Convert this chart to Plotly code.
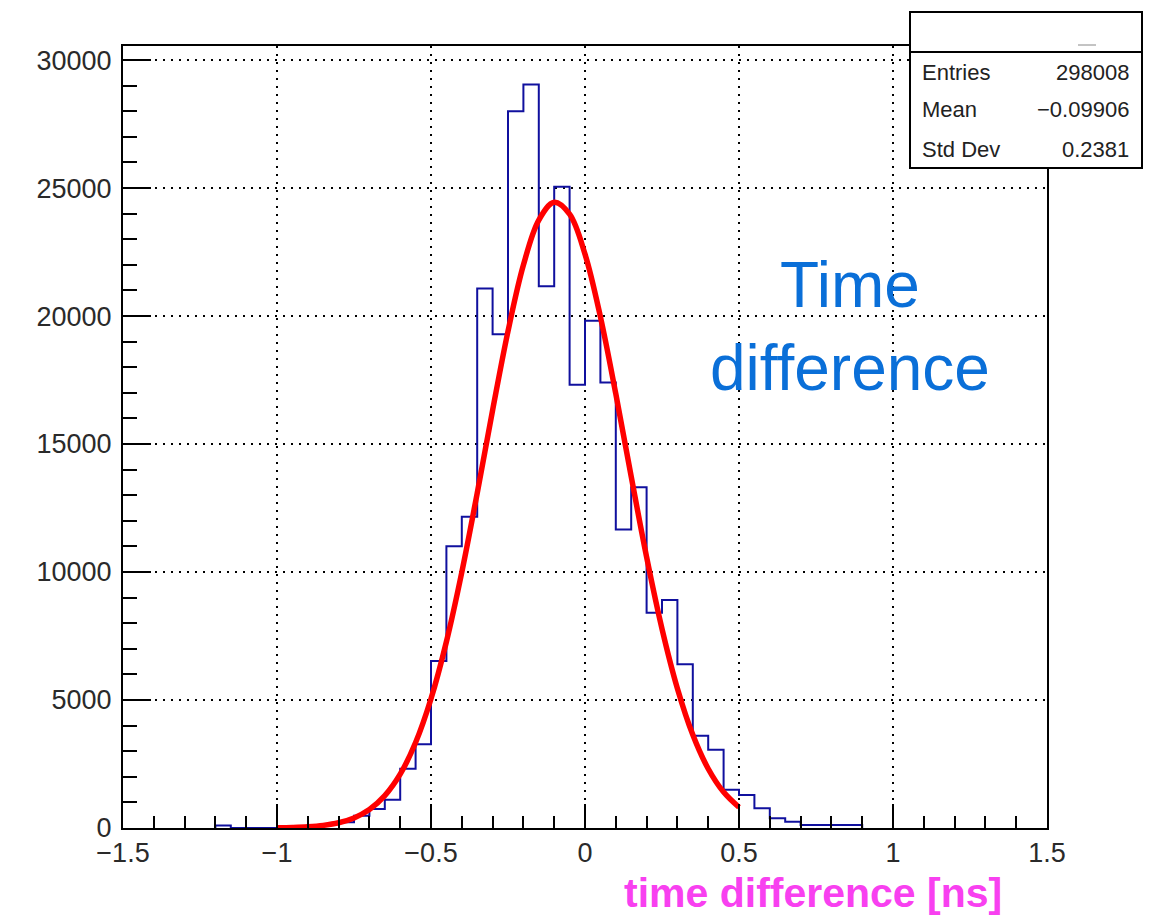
import plotly.graph_objects as go

# ---------------- data ----------------
bin_low_edges = [-1.20, -1.15, -1.10, -1.05, -1.00, -0.95, -0.90, -0.85, -0.80, -0.75,
                 -0.70, -0.65, -0.60, -0.55, -0.50, -0.45, -0.40, -0.35, -0.30, -0.25,
                 -0.20, -0.15, -0.10, -0.05, 0.00, 0.05, 0.10, 0.15, 0.20, 0.25,
                 0.30, 0.35, 0.40, 0.45, 0.50, 0.55, 0.60, 0.65, 0.70, 0.75,
                 0.80, 0.85]
last_bin_high_edge = 0.90
counts = [100, 0, 0, 0, 30, 60, 90, 150, 222, 480,
          741, 1100, 2310, 3276, 6525, 11010, 12156, 21072, 19293, 28002,
          29043, 21165, 25050, 17316, 19812, 17406, 11661, 13311, 8412, 8904,
          6396, 3600, 3054, 1494, 1287, 768, 378, 246, 117, 117,
          117, 117]

fit_x = [-1.00, -0.95, -0.90, -0.85, -0.80, -0.75, -0.70, -0.65, -0.60, -0.55,
         -0.50, -0.45, -0.40, -0.35, -0.30, -0.25, -0.20, -0.15, -0.10, -0.05,
         0.00, 0.05, 0.10, 0.15, 0.20, 0.25, 0.30, 0.35, 0.40, 0.45, 0.50]
fit_y = [9, 22, 48, 102, 205, 394, 723, 1265, 2103, 3339,
         5050, 7277, 9993, 13082, 16320, 19406, 21990, 23748, 24444, 23978,
         22419, 19973, 16961, 13727, 10587, 7783, 5453, 3641, 2316, 1404, 811]

x_tickvals = [-1.5, -1, -0.5, 0, 0.5, 1, 1.5]
x_ticktext = ["\u22121.5", "\u22121", "\u22120.5", "0", "0.5", "1", "1.5"]
y_tickvals = [0, 5000, 10000, 15000, 20000, 25000, 30000]
y_ticktext = ["0", "5000", "10000", "15000", "20000", "25000", "30000"]

stats_labels = ["Entries", "Mean", "Std Dev"]
stats_values = ["298008", "\u22120.09906", "0.2381"]

x_title = "time difference [ns]"
note_text = "Time<br>difference"

# ---------------- figure ----------------
OFF = 8                       # page body margin
W, H = 1156 - OFF, 915 - OFF
L, R, T, B = 123, 1047, 46, 828   # plot frame in page pixels
pw, ph = R - L, B - T

def px(x):
    return (x - L) / pw

def py(y):
    return (B - y) / ph

hx = [bin_low_edges[0]] + bin_low_edges + [last_bin_high_edge, last_bin_high_edge]
hy = [0] + counts + [counts[-1], 0]

fig = go.Figure()
fig.add_trace(go.Scatter(x=hx, y=hy, mode="lines", line=dict(color="#10109e", width=2, shape="hv"),
                         hoverinfo="skip"))
fig.add_trace(go.Scatter(x=fit_x, y=fit_y, mode="lines", line=dict(color="#ff0000", width=5.5, shape="spline"),
                         hoverinfo="skip"))

tickfont = dict(family="Liberation Sans, Arial, sans-serif", size=27, color="#2a2a2a")
fig.update_layout(
    width=W, height=H,
    margin=dict(l=L - OFF, r=1156 - R, t=T - OFF, b=915 - B, pad=0),
    paper_bgcolor="white", plot_bgcolor="white",
    showlegend=False,
    xaxis=dict(range=[-1.5, 1.5], tickvals=x_tickvals, ticktext=x_ticktext,
               ticks="inside", ticklen=24, tickwidth=2, tickcolor="black",
               showline=True, linecolor="black", linewidth=2, mirror=True,
               showgrid=True, gridcolor="black", gridwidth=2, griddash="2px,6px",
               zeroline=False, tickfont=tickfont, ticklabelstandoff=0,
               minor=dict(dtick=0.1, tick0=0, ticks="inside", ticklen=12, tickwidth=2,
                          tickcolor="black", showgrid=False)),
    yaxis=dict(range=[0, 30550], tickvals=y_tickvals, ticktext=y_ticktext,
               ticks="inside", ticklen=28, tickwidth=2, tickcolor="black",
               showline=True, linecolor="black", linewidth=2, mirror=True,
               showgrid=True, gridcolor="black", gridwidth=2, griddash="2px,6px",
               zeroline=False, tickfont=tickfont, ticklabelstandoff=4,
               minor=dict(dtick=1000, tick0=0, ticks="inside", ticklen=14, tickwidth=2,
                          tickcolor="black", showgrid=False)),
)

# stats box
bx0, bx1, by0, by1, bsep = 910, 1142, 12, 168, 52
fig.add_shape(type="rect", xref="paper", yref="paper", x0=px(bx0), x1=px(bx1), y0=py(by1), y1=py(by0),
              line=dict(color="black", width=2), fillcolor="white", layer="above")
fig.add_shape(type="line", xref="paper", yref="paper", x0=px(bx0), x1=px(bx1), y0=py(bsep), y1=py(bsep),
              line=dict(color="black", width=2), layer="above")
fig.add_shape(type="line", xref="paper", yref="paper", x0=px(1078), x1=px(1096), y0=py(45), y1=py(45),
              line=dict(color="#888888", width=1), layer="above")

statfont = dict(family="Liberation Sans, Arial, sans-serif", size=22, color="#222222")
row_y = [72, 110, 149]
for lab, val, yy in zip(stats_labels, stats_values, row_y):
    fig.add_annotation(xref="paper", yref="paper", x=px(920), y=py(yy), text=lab, showarrow=False,
                       xanchor="left", yanchor="middle", font=statfont)
    fig.add_annotation(xref="paper", yref="paper", x=px(1131), y=py(yy), text=val, showarrow=False,
                       xanchor="right", yanchor="middle", font=statfont)

# in-plot note
fig.add_annotation(xref="paper", yref="paper", x=px(850), y=py(326), text=note_text, showarrow=False,
                   xanchor="center", yanchor="middle", align="center",
                   font=dict(family="Liberation Sans, Arial, sans-serif", size=64, color="#0a6fd8"))

# x-axis title (magenta)
fig.add_annotation(xref="paper", yref="paper", x=px(813), y=py(893), text="<b>" + x_title + "</b>",
                   showarrow=False, xanchor="center", yanchor="middle",
                   font=dict(family="Liberation Sans, Arial, sans-serif", size=41, color="#f840f0"))

fig.write_html("out.html")
